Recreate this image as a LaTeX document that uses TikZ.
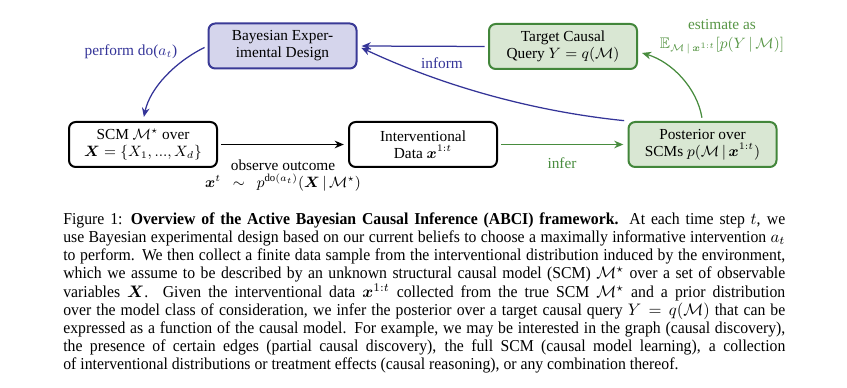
\documentclass[tikz,border=0pt]{standalone}
\usepackage{amsmath,amssymb,bm}
\usepackage{fontspec}
\setmainfont{Liberation Serif}
\newfontfamily\capfont[FakeStretch=0.945]{Liberation Serif}
\usetikzlibrary{arrows.meta,calc}
\definecolor{bedfill}{RGB}{213,213,236}
\definecolor{bedline}{RGB}{58,58,150}
\definecolor{gfill}{RGB}{217,231,211}
\definecolor{gline}{RGB}{66,134,58}
\definecolor{blu}{RGB}{52,52,152}
\definecolor{grn}{RGB}{72,140,62}
\definecolor{lgrn}{RGB}{88,150,70}
\newcommand\diagfont{\fontsize{9.2}{10.2}\selectfont}
\newcommand\capline[1]{\hbox to 433.2pt{#1}}
\begin{document}
\begin{tikzpicture}[x=0.6pt,y=-0.6pt,
  box/.style={draw, line width=1.2pt, rounded corners=4pt, minimum width=88.8pt,
    minimum height=27pt, align=center, inner sep=1pt, font=\diagfont},
  arr/.style={-{Stealth[length=5.5pt,width=4.6pt]}, line width=0.75pt, shorten >=2.5pt, shorten <=2pt},
  lbl/.style={font=\diagfont, inner sep=0pt, align=center}]
\useasboundingbox (0,0) rectangle (847,388);
% nodes
\node[box, fill=bedfill, draw=bedline] (bed) at (282.5,46) {Bayesian Exper-\\imental Design};
\node[box, fill=gfill, draw=gline] (tgt) at (563,46.5) {Target Causal\\Query $Y=q(\mathcal{M})$};
\node[box] (scm) at (143,144.5) {SCM $\mathcal{M}^\star$ over\\$\bm{X}=\{X_1,...,X_d\}$};
\node[box] (int) at (423,144.5) {Interventional\\Data $\bm{x}^{1:t}$};
\node[box, fill=gfill, draw=gline] (post) at (702.5,144.5) {Posterior over\\SCMs $p(\mathcal{M}\,|\,\bm{x}^{1:t})$};
% connectors
\draw[arr] (scm.east) -- (int.west);
\draw[arr, grn] (int.east) -- (post.west);
\draw[arr, blu] (tgt.west) -- (bed.east);
\draw[arr, blu] (post.north west) .. controls (520,110) and (430,80) .. (bed.east);
\draw[arr, grn] (post.north) .. controls (697,88) and (672,62) .. (tgt.-4);
\draw[arr, blu] (bed.west) .. controls (175,62) and (150,88) .. (scm.north);
% labels
\node[lbl, text=blu] (lperf) at (131,52) {perform do($a_t$)};
\node[lbl, text=blu] (linf) at (442,63) {inform};
\node[lbl, text=lgrn] (lest) at (722,37) {estimate as\\[1pt]$\mathbb{E}_{\mathcal{M}\,|\,\bm{x}^{1:t}}[p(Y\,|\,\mathcal{M})]$};
\node[lbl] (lobs) at (283,176) {observe outcome\\$\bm{x}^t\ \ \sim\ \ p^{\mathrm{do}(a_t)}(\bm{X}\,|\,\mathcal{M}^\star)$};
\node[lbl, text=grn] (linfer) at (562,163) {infer};
% caption
\node[anchor=base west, inner sep=0pt] (cap) at (63,224.3) {\parbox[t]{433.2pt}{\capfont\fontsize{10}{10.92}\selectfont
\capline{Figure 1:\enspace\textbf{Overview of the Active Bayesian Causal Inference (ABCI) framework.} At each time step $t$, we}
\capline{use Bayesian experimental design based on our current beliefs to choose a maximally informative intervention $a_t$}
\capline{to perform. We then collect a finite data sample from the interventional distribution induced by the environment,}
\capline{which we assume to be described by an unknown structural causal model (SCM) $\mathcal{M}^\star$ over a set of observable}
\capline{variables $\bm{X}$. Given the interventional data $\bm{x}^{1:t}$ collected from the true SCM $\mathcal{M}^\star$ and a prior distribution}
\capline{over the model class of consideration, we infer the posterior over a target causal query $Y=q(\mathcal{M})$ that can be}
\capline{expressed as a function of the causal model. For example, we may be interested in the graph (causal discovery),}
\capline{the presence of certain edges (partial causal discovery), the full SCM (causal model learning), a collection}
\hbox{of interventional distributions or treatment effects (causal reasoning), or any combination thereof.}}};
\end{tikzpicture}
\end{document}
